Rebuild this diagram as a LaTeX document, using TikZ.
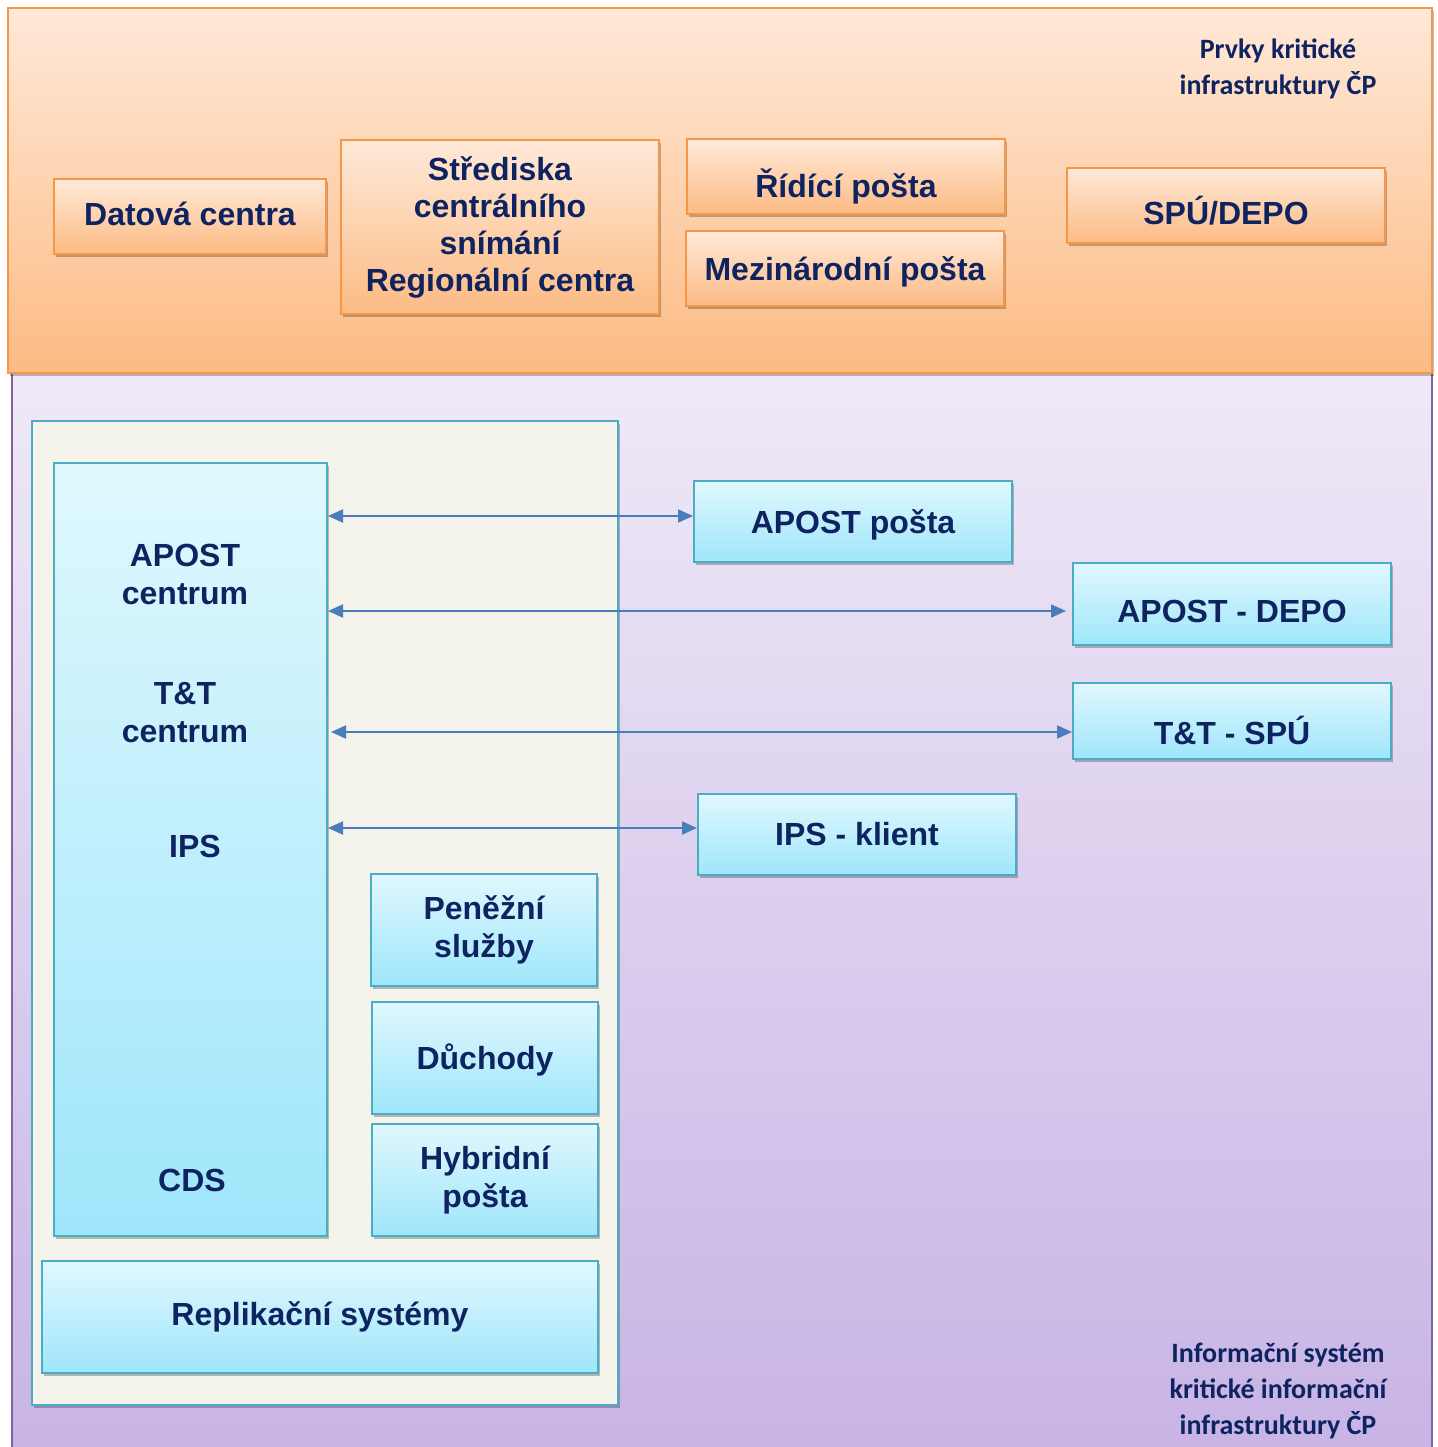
\documentclass[tikz,border=0pt]{standalone}
\usepackage{fontspec}
\setmainfont{Liberation Sans}
\newfontfamily\calibri{Carlito}
\usepackage{tikz}
\usepackage{xcolor}
\usetikzlibrary{shadows}
\usetikzlibrary{positioning, fit, arrows.meta}

\definecolor{navy}{HTML}{0E2360}
\definecolor{orangeline}{HTML}{F79646}
\definecolor{orangetop}{HTML}{FFE9D8}
\definecolor{orangebot}{HTML}{FCBB84}
\definecolor{purpletop}{HTML}{EFE9F7}
\definecolor{purplebot}{HTML}{C7B3E5}
\definecolor{purpleline}{HTML}{8064A2}
\definecolor{beige}{HTML}{F4F3EC}
\definecolor{blueline}{HTML}{4BACC6}
\definecolor{bluetop}{HTML}{E0F8FE}
\definecolor{bluebot}{HTML}{9FE6FB}
\definecolor{arrowblue}{HTML}{4A7EBB}

\begin{document}
\begin{tikzpicture}[x=1pt,y=-1pt]
                % Define the styles for boxes, links and labels
                \tikzstyle{shade}=[drop shadow={shadow xshift=1.5pt, shadow yshift=-3pt, opacity=0.25, fill=black}];
                \tikzstyle{orangebox}=[shade, draw=orangeline, line width=2pt, top color=orangetop, bottom color=orangebot, text=navy, align=center, inner sep=0pt, font=\fontsize{32}{37}\selectfont\bfseries];
                \tikzstyle{bluebox}=[shade, draw=blueline, line width=2pt, top color=bluetop, bottom color=bluebot, text=navy, align=center, inner sep=0pt, font=\fontsize{32}{38}\selectfont\bfseries];
                \tikzstyle{lowtext}=[text height=#1, text depth=0pt];
                \tikzstyle{coltext}=[text=navy, align=center, font=\fontsize{32}{38}\selectfont\bfseries];
                \tikzstyle{panellabel}=[text=navy, align=center, font=\calibri\fontsize{28}{36}\selectfont\bfseries];
                \tikzstyle{link}=[{Triangle[length=15pt,width=13pt]}-{Triangle[length=15pt,width=13pt]}, line width=2pt, draw=arrowblue];

                \useasboundingbox (0,0) rectangle (1437,1447);

                % Lower panel (information system)
                \draw[draw=purpleline, line width=2pt, top color=purpletop, bottom color=purplebot] (12,373) rectangle (1432,1470);

                % Upper panel (critical infrastructure)
                \draw[shade, draw=orangeline, line width=2pt, top color=orangetop, bottom color=orangebot] (8,8) rectangle (1432,373);

                % Panel labels
                \node[panellabel] (krit) at (1278,69) {Prvky kritické\\infrastruktury ČP};
                \node[panellabel] (info) at (1278,1391) {Informační systém\\kritické informační\\infrastruktury ČP};

                % Orange boxes
                \node[orangebox, lowtext=18.6pt, minimum width=272pt, minimum height=75pt] (datova) at (190,216.5) {Datová centra};
                \node[orangebox, minimum width=318pt, minimum height=174pt] (strediska) at (500,227) {Střediska\\centrálního\\snímání\\Regionální centra};
                \node[orangebox, lowtext=43pt, minimum width=318pt, minimum height=75pt] (ridici) at (846,176.5) {Řídící pošta};
                \node[orangebox, lowtext=24pt, minimum width=318pt, minimum height=75pt] (mezinar) at (845,268.5) {Mezinárodní pošta};
                \node[orangebox, lowtext=38pt, minimum width=318pt, minimum height=75pt] (spu) at (1226,205.5) {SPÚ/DEPO};

                % Inner panel
                \draw[shade, draw=blueline, line width=2pt, fill=beige] (32,421) rectangle (618,1405);

                % Central column
                \node[bluebox, minimum width=273pt, minimum height=773pt] (centrum) at (190.5,849.5) {};
                \node[coltext] (apostc) at (185,574) {APOST\\centrum};
                \node[coltext] (ttc) at (185,713) {T\&T\\centrum};
                \node[coltext] (ips) at (195,846) {IPS};
                \node[coltext] (cds) at (192,1180) {CDS};

                % Services inside the panel
                \node[bluebox, minimum width=226pt, minimum height=112pt] (penez) at (484,930) {Peněžní\\služby};
                \node[bluebox, lowtext=23pt, minimum width=226pt, minimum height=112pt] (duchody) at (485,1058) {Důchody};
                \node[bluebox, minimum width=226pt, minimum height=112pt] (hybrid) at (485,1180) {Hybridní\\pošta};
                \node[bluebox, minimum width=556pt, minimum height=112pt] (replik) at (320,1317) {Replikační systémy};

                % Outer clients
                \node[bluebox, lowtext=24pt, minimum width=318pt, minimum height=81pt] (apostp) at (853,521.5) {APOST pošta};
                \node[bluebox, lowtext=37pt, minimum width=318pt, minimum height=82pt] (apostd) at (1232,604) {APOST - DEPO};
                \node[bluebox, lowtext=46pt, minimum width=318pt, minimum height=76pt] (tts) at (1232,721) {T\&T - SPÚ};
                \node[bluebox, minimum width=318pt, minimum height=81pt] (ipsk) at (857,834.5) {IPS - klient};

                % Links between the column and the clients
                \draw[link] (centrum.east |- 0,516) -- (apostp.west |- 0,516);
                \draw[link] (centrum.east |- 0,611) -- ([xshift=-6pt]apostd.west |- 0,611);
                \draw[link] ([xshift=3pt]centrum.east |- 0,732) -- (tts.west |- 0,732);
                \draw[link] (centrum.east |- 0,828) -- (ipsk.west |- 0,828);

            \end{tikzpicture}
\end{document}
